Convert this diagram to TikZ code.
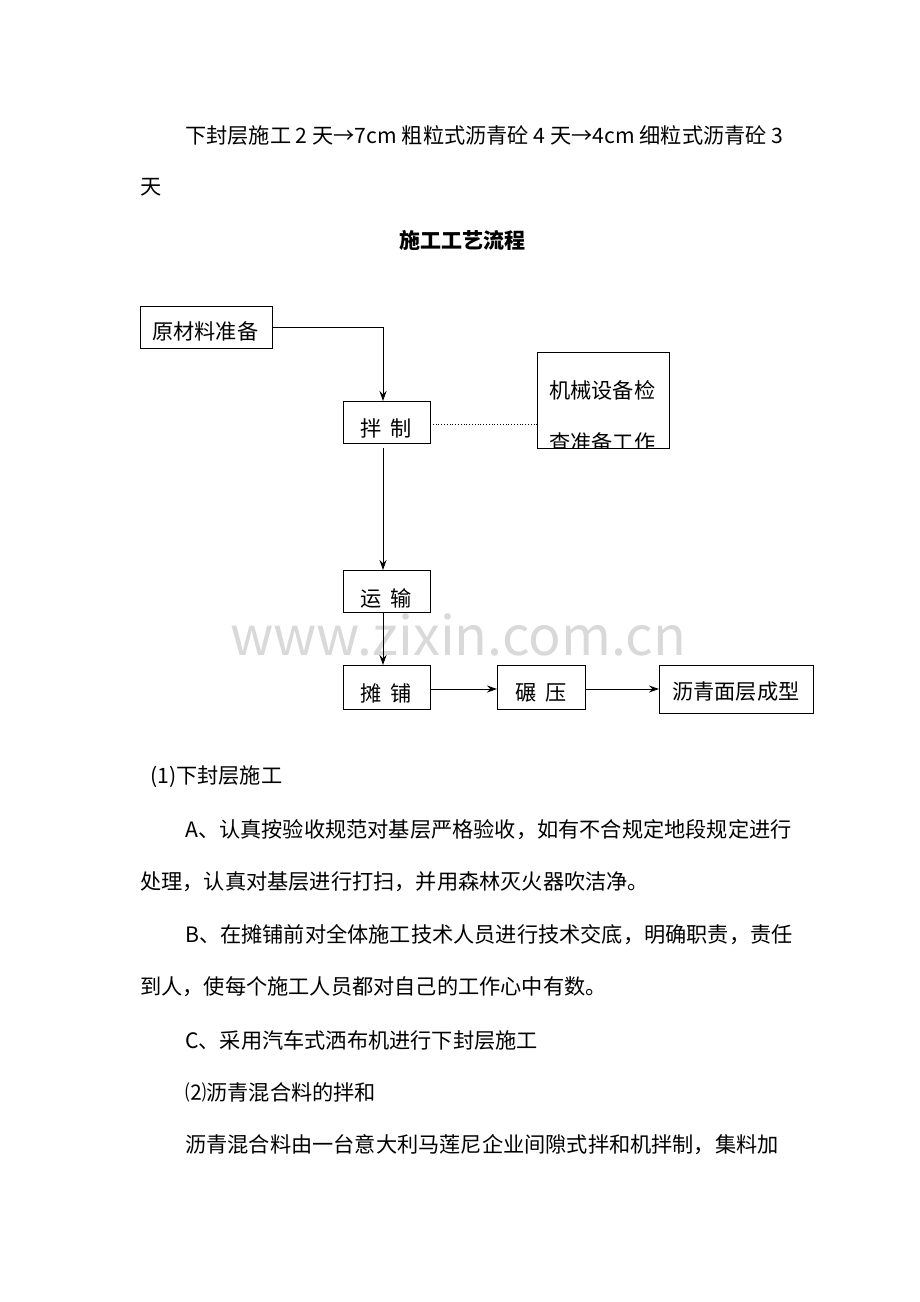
\documentclass[tikz,border=0pt]{standalone}
\usepackage{fontspec}
\setmainfont{Noto Sans CJK SC}
\usetikzlibrary{arrows.meta}
\begin{document}
\begin{tikzpicture}[x=1pt,y=-1pt,
 txt/.style={anchor=west,inner sep=0pt,font=\fontsize{21.2}{25}\selectfont},
 box/.style={draw,line width=1pt},
 arr/.style={-{Stealth[length=10pt,width=7pt]},line width=1pt}]
\useasboundingbox (0,0) rectangle (920,1302);
\node[txt] (l1) at (185,135) {下封层施工 2 天→7cm 粗粒式沥青砼 4 天→4cm 细粒式沥青砼 3};
\node[txt] (l2) at (140,187) {天};
\node[inner sep=0pt,font=\fontsize{21}{24}\selectfont\bfseries] (title) at (462,240) {施工工艺流程};
\node[txt,text=gray!30,font=\fontsize{54}{60}\selectfont] (wm) at (230,635) {www.zixin.com.cn};
\draw[box] (140,306) rectangle (272,348);
\node[txt] (a) at (152,331) {原材料准备};
\draw[box] (343,401) rectangle (430,443);
\node[txt] (b) at (360,428) {拌\ \ 制};
\draw[box] (537,352) rectangle (669,448);
\begin{scope}
\clip (537,352) rectangle (669,448);
\node[txt] (c1) at (549,390) {机械设备检};
\node[txt] (c2) at (549,442) {查准备工作};
\end{scope}
\draw[dotted,line width=0.8pt] (430,424) -- (537,424);
\draw[box] (343,570) rectangle (430,612);
\node[txt] (d) at (360,598) {运\ \ 输};
\draw[box] (343,665) rectangle (430,709);
\node[txt] (e) at (360,693) {摊\ \ 铺};
\draw[box] (497,665) rectangle (585,709);
\node[txt] (f) at (515,693) {碾\ \ 压};
\draw[box] (659,665) rectangle (813,713);
\node[txt] (g) at (672,692) {沥青面层成型};
\draw[arr] (272,327) -- (383,327) -- (383,401);
\draw[arr] (383,448) -- (383,570);
\draw[arr] (383,612) -- (383,665);
\draw[arr] (430,689) -- (497,689);
\draw[arr] (585,689) -- (659,689);
\node[txt] (p1) at (150,777) {(1)下封层施工};
\node[txt] (p2) at (185,830) {A、认真按验收规范对基层严格验收，如有不合规定地段规定进行};
\node[txt] (p3) at (140,882) {处理，认真对基层进行打扫，并用森林灭火器吹洁净。};
\node[txt] (p4) at (185,935) {B、在摊铺前对全体施工技术人员进行技术交底，明确职责，责任};
\node[txt] (p5) at (140,987) {到人，使每个施工人员都对自己的工作心中有数。};
\node[txt] (p6) at (185,1040) {C、采用汽车式洒布机进行下封层施工};
\node[txt] (p7) at (185,1092) {⑵沥青混合料的拌和};
\node[txt] (p8) at (185,1145) {沥青混合料由一台意大利马莲尼企业间隙式拌和机拌制，集料加};
\end{tikzpicture}
\end{document}
